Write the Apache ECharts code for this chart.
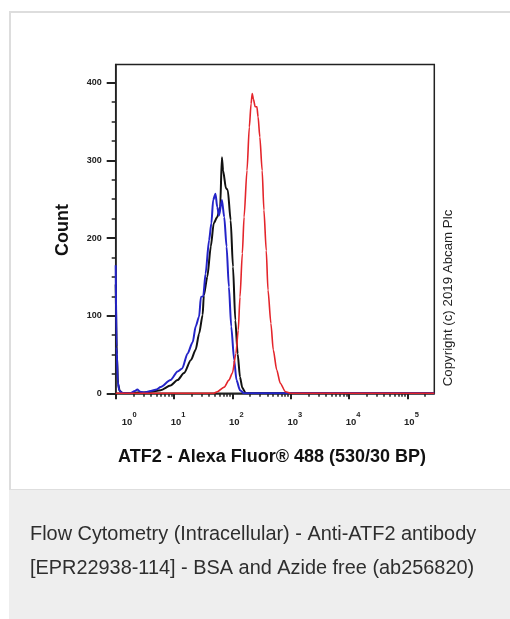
<!DOCTYPE html>
<html><head><meta charset="utf-8">
<script src="https://cdn.jsdelivr.net/npm/echarts@6/dist/echarts.min.js"></script>
<style>
html,body{margin:0;padding:0;background:#fff;overflow:hidden;width:510px;height:619px;}
#frame{position:absolute;left:9px;top:11px;width:520px;height:477px;border-left:2px solid #dddddd;border-top:2px solid #dddddd;background:#fff;}
#cap{position:absolute;left:9px;top:489px;width:520px;height:140px;background:#eeeeee;border-top:1px solid #dedede;}
#c{position:absolute;left:0;top:0;width:510px;height:619px;}
</style>
</head><body>
<div id="frame"></div><div id="cap"></div><div id="c"></div>
<script>
// x values are log10 of fluorescence intensity
const xDecades = [0, 1, 2, 3, 4, 5];
const yMajorTicks = [0, 100, 200, 300, 400];
const yMinorTicks = [25, 50, 75, 125, 150, 175, 225, 250, 275, 325, 350, 375];

const blackLogX = [0, 0.02, 0.04, 0.07, 0.12, 0.2, 0.3, 0.37, 0.45, 0.6, 0.77, 0.94, 1.06, 1.17, 1.29, 1.37, 1.43, 1.49, 1.51, 1.57, 1.63, 1.68, 1.74, 1.79, 1.82, 1.84, 1.89, 1.92, 1.97, 2.01, 2.05, 2.09, 2.13, 2.17, 2.23, 2.4, 5.46];
const blackCount = [140, 50, 12, 3, 0, 0, 0, 1, 1, 2, 4, 10, 17, 26, 43, 56, 77, 101, 126, 150, 189, 219, 227, 240, 304, 287, 264, 262, 223, 163, 94, 51, 21, 7, 0, 0, 0];

const blueLogX = [0, 0.015, 0.035, 0.06, 0.1, 0.15, 0.25, 0.33, 0.37, 0.42, 0.5, 0.6, 0.7, 0.77, 0.94, 1.06, 1.14, 1.23, 1.32, 1.37, 1.43, 1.46, 1.5, 1.54, 1.6, 1.64, 1.67, 1.71, 1.74, 1.77, 1.82, 1.86, 1.9, 1.94, 1.98, 2.03, 2.07, 2.13, 2.2, 2.4, 5.46];
const blueCount = [165, 60, 15, 4, 1, 0, 0, 3, 5, 2, 1, 3, 5, 8, 17, 28, 32, 51, 66, 86, 99, 124, 125, 154, 197, 219, 249, 257, 240, 229, 249, 227, 189, 137, 86, 43, 17, 4, 0, 0, 0];

const redLogX = [0, 1.6, 1.68, 1.74, 1.86, 1.94, 2.0, 2.06, 2.1, 2.13, 2.17, 2.2, 2.25, 2.29, 2.32, 2.34, 2.36, 2.39, 2.42, 2.44, 2.47, 2.51, 2.54, 2.58, 2.61, 2.66, 2.7, 2.76, 2.82, 2.91, 3.0, 5.46];
const redCount = [0, 0, 0, 2, 8, 17, 26, 51, 81, 124, 180, 227, 287, 343, 373, 386, 379, 369, 369, 356, 330, 287, 236, 184, 133, 90, 56, 30, 13, 2, 0, 0];

const xTitle = 'ATF2 - Alexa Fluor® 488 (530/30 BP)';
const yTitle = 'Count';
const copyright = 'Copyright (c) 2019 Abcam Plc';
const caption1 = 'Flow Cytometry (Intracellular) - Anti-ATF2 antibody';
const caption2 = '[EPR22938-114] - BSA and Azide free (ab256820)';

const xMinorTicks = [];
xDecades.forEach(d => { for (let k = 2; k <= 9; k++) { const v = d + Math.log10(k); if (v < 5.46) xMinorTicks.push(v); } });

const pairs = (xs, ys) => xs.map((x, i) => [x, ys[i]]);
const FONT = '"Liberation Sans", Arial, Helvetica, sans-serif';

const chart = echarts.init(document.getElementById('c'), null, {renderer: 'canvas'});
const lineSeries = (name, xs, ys, color, w) => ({
  name, type: 'line', xAxisIndex: 0, yAxisIndex: 0, data: pairs(xs, ys),
  showSymbol: false, symbol: 'none', smooth: 0.25, smoothMonotone: 'x',
  lineStyle: {color, width: w}, itemStyle: {color}, animation: false, silent: true
});
chart.setOption({
  animation: false,
  grid: {left: 115.7, right: 75.7, top: 64.5, bottom: 225.7, show: true, borderColor: '#222', borderWidth: 1.5, backgroundColor: 'transparent'},
  xAxis: [{
    type: 'value', min: 0, max: 5.46, position: 'bottom',
    axisLine: {show: true, onZero: false, lineStyle: {color: '#222', width: 1.5}},
    axisTick: {show: true, customValues: xDecades, length: 6, lineStyle: {color: '#222', width: 2}},
    axisLabel: {
      show: true, customValues: xDecades, margin: 24, color: '#222', fontFamily: FONT,
      formatter: v => { const n = Math.round(v); return (n === 0 ? '{b0|10}' : '{b|10}') + '{s|' + n + '}'; },
      rich: {
        b0: {fontSize: 9.5, fontWeight: 'bold', fontFamily: FONT, color: '#222', padding: [0, 0, 0, 27], lineHeight: 10},
        b: {fontSize: 9.5, fontWeight: 'bold', fontFamily: FONT, color: '#222', padding: [0, 0, 0, 8], lineHeight: 10},
        s: {fontSize: 7.5, fontWeight: 'bold', fontFamily: FONT, color: '#222', lineHeight: 8, padding: [0, 0, 15, 0]}
      }
    },
    splitLine: {show: false}
  }, {
    type: 'value', min: 0, max: 5.46, position: 'bottom',
    axisLine: {show: false, onZero: false},
    axisTick: {show: true, customValues: xMinorTicks, length: 3.5, lineStyle: {color: '#222', width: 1.5}},
    axisLabel: {show: false}, splitLine: {show: false}
  }],
  yAxis: [{
    type: 'value', min: 0, max: 423.5, position: 'left',
    axisLine: {show: true, onZero: false, lineStyle: {color: '#222', width: 1.5}},
    axisTick: {show: true, customValues: yMajorTicks, length: 9, lineStyle: {color: '#222', width: 2}},
    axisLabel: {show: true, customValues: yMajorTicks, margin: 14, fontSize: 9, fontWeight: 'bold', fontFamily: FONT, color: '#222'},
    splitLine: {show: false}
  }, {
    type: 'value', min: 0, max: 423.5, position: 'left',
    axisLine: {show: false, onZero: false},
    axisTick: {show: true, customValues: yMinorTicks, length: 4, lineStyle: {color: '#222', width: 1.5}},
    axisLabel: {show: false}, splitLine: {show: false}
  }],
  series: [
    lineSeries('black', blackLogX, blackCount, '#111111', 2),
    lineSeries('blue', blueLogX, blueCount, '#2424c8', 2),
    lineSeries('red', redLogX, redCount, '#e4252b', 1.6)
  ],
  graphic: [
    {type: 'text', x: 63, y: 230, rotation: Math.PI / 2, z: 100,
      style: {text: yTitle, font: 'bold 18px ' + FONT, fill: '#111', textAlign: 'center', textVerticalAlign: 'middle'}},
    {type: 'text', x: 272, y: 457, z: 100,
      style: {text: xTitle, font: 'bold 18px ' + FONT, fill: '#111', textAlign: 'center', textVerticalAlign: 'middle'}},
    {type: 'text', x: 448, y: 298, rotation: Math.PI / 2, z: 100,
      style: {text: copyright, font: '13.3px ' + FONT, fill: '#222', textAlign: 'center', textVerticalAlign: 'middle'}},
    {type: 'text', x: 30, y: 535, z: 100,
      style: {text: caption1, font: '19.9px ' + FONT, fill: '#2e2e2e', textAlign: 'left', textVerticalAlign: 'middle'}},
    {type: 'text', x: 30, y: 569, z: 100,
      style: {text: caption2, font: '19.9px ' + FONT, fill: '#2e2e2e', textAlign: 'left', textVerticalAlign: 'middle'}}
  ]
});
</script>
</body></html>
